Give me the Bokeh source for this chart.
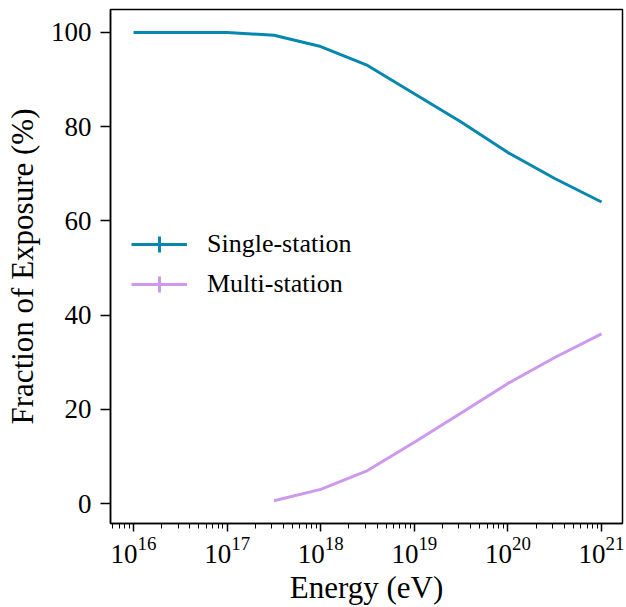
from bokeh.plotting import figure
from bokeh.models import Range1d, FixedTicker, Legend, LegendItem
from bokeh.embed import file_html
from bokeh.resources import INLINE

# Data
energy_single = [1e16, 1e17, 10**17.5, 1e18, 10**18.5, 1e19, 10**19.5, 1e20, 10**20.5, 1e21]
single_station = [100.0, 100.0, 99.4, 97.0, 93.0, 87.0, 81.0, 74.5, 69.0, 64.0]
energy_multi = [10**17.5, 1e18, 10**18.5, 1e19, 10**19.5, 1e20, 10**20.5, 1e21]
multi_station = [0.6, 3.0, 7.0, 13.0, 19.2, 25.5, 31.0, 36.0]
x_major_ticks = [1e16, 1e17, 1e18, 1e19, 1e20, 1e21]
y_ticks = [0, 20, 40, 60, 80, 100]

FONT = "'Liberation Serif', 'Times New Roman', serif"
C_SINGLE = "#0687AF"
C_MULTI = "#CC99EE"

p = figure(width=626, height=607, x_axis_type="log", output_backend="svg",
           toolbar_location=None,
           x_range=Range1d(10**15.754, 10**21.224), y_range=Range1d(-4.24, 104.87),
           min_border_left=110, min_border_right=4, min_border_top=9, min_border_bottom=83)
p.grid.visible = False
p.outline_line_color = "black"
p.outline_line_width = 1.5
p.background_fill_color = "white"
p.border_fill_color = "white"

minor = [k * 10**n for n in range(15, 22) for k in range(2, 10)]
p.xaxis.ticker = FixedTicker(ticks=x_major_ticks, minor_ticks=minor)
p.yaxis.ticker = FixedTicker(ticks=y_ticks)

for ax in (p.xaxis[0], p.yaxis[0]):
    ax.axis_line_color = "black"
    ax.axis_line_width = 1.5
    ax.major_tick_line_color = "black"
    ax.major_tick_line_width = 1.5
    ax.minor_tick_line_color = "black"
    ax.minor_tick_line_width = 1.0
    ax.major_tick_in = 0
    ax.minor_tick_in = 0
    ax.major_label_text_font = FONT
    ax.major_label_text_font_size = "27px"
    ax.major_label_text_color = "black"
    ax.axis_label_text_font = FONT
    ax.axis_label_text_font_size = "31px"
    ax.axis_label_text_font_style = "normal"
    ax.axis_label_text_color = "black"

p.xaxis.major_tick_out = 8
p.xaxis.minor_tick_out = 5
p.xaxis.major_label_standoff = 5
p.xaxis.axis_label = "Energy (eV)"
p.xaxis.axis_label_standoff = 4

p.yaxis.major_tick_out = 10
p.yaxis.minor_tick_line_color = None
p.yaxis.major_label_standoff = 9
p.yaxis.axis_label = "Fraction of Exposure (%)"
p.yaxis.axis_label_standoff = 8

l1 = p.line(energy_single, single_station, line_color=C_SINGLE, line_width=3)
m1 = p.scatter(energy_single, single_station, marker="cross", size=0,
               line_color=C_SINGLE, line_width=3)
l2 = p.line(energy_multi, multi_station, line_color=C_MULTI, line_width=3)
m2 = p.scatter(energy_multi, multi_station, marker="cross", size=0,
               line_color=C_MULTI, line_width=3)

legend = Legend(items=[LegendItem(label="Single-station", renderers=[l1, m1]),
                       LegendItem(label="Multi-station", renderers=[l2, m2])],
                location=(21, 219), padding=0, margin=0, spacing=0,
                glyph_width=56, glyph_height=40, label_standoff=20,
                label_text_font=FONT, label_text_font_size="26px",
                label_text_color="black",
                background_fill_alpha=0, border_line_alpha=0)
p.add_layout(legend)

open("out.html", "w").write(file_html(p, INLINE))
